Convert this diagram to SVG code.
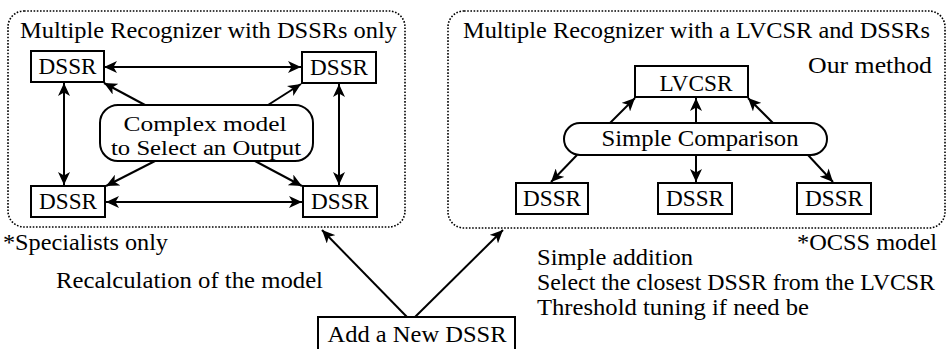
<svg xmlns="http://www.w3.org/2000/svg" width="948" height="349" viewBox="0 0 948 349">
<style>
text{font-family:"Liberation Serif","DejaVu Serif",serif;font-size:23px;fill:#000}
.c{text-anchor:middle}
.e{text-anchor:end}
.s{font-size:20px}
.box{fill:#fff;stroke:#000;stroke-width:2}
.frame{fill:none;stroke:#000;stroke-width:1.6;stroke-dasharray:1.6 1.6}
.ln{fill:none;stroke:#000;stroke-width:2}
.one{marker-end:url(#ah)}
.two{marker-end:url(#ah);marker-start:url(#ah)}
</style>
<defs>
<marker id="ah" viewBox="0 0 13 12" refX="13" refY="6" markerWidth="13" markerHeight="12" markerUnits="userSpaceOnUse" orient="auto-start-reverse">
<path d="M0,0 L13,6 L0,12 L3.5,6 z" fill="#000"/>
</marker>
</defs>

<g id="group-left">
<rect class="frame" x="8" y="11" width="397" height="216" rx="16"/>
<text x="20" y="38" textLength="377" lengthAdjust="spacingAndGlyphs">Multiple Recognizer with DSSRs only</text>
</g>
<g id="group-right">
<rect class="frame" x="448" y="11" width="497" height="217" rx="16"/>
<text x="463" y="38" textLength="467" lengthAdjust="spacingAndGlyphs">Multiple Recognizer with a LVCSR and DSSRs</text>
<text x="808" y="73" textLength="124" lengthAdjust="spacingAndGlyphs">Our method</text>
</g>

<g id="connectors">
<line class="ln two" x1="104" y1="67" x2="301" y2="67"/>
<line class="ln two" x1="106" y1="202" x2="302" y2="202"/>
<line class="ln two" x1="64" y1="83" x2="64" y2="185"/>
<line class="ln two" x1="339" y1="84" x2="339" y2="185"/>
<line class="ln one" x1="145" y1="105" x2="104" y2="83"/>
<line class="ln one" x1="268" y1="105" x2="301" y2="84"/>
<line class="ln one" x1="155" y1="161" x2="106" y2="186"/>
<line class="ln one" x1="255" y1="161" x2="302" y2="186"/>
<line class="ln one" x1="610" y1="123" x2="635" y2="98"/>
<line class="ln one" x1="696" y1="123" x2="696" y2="98"/>
<line class="ln one" x1="773" y1="123" x2="748" y2="98"/>
<line class="ln one" x1="577" y1="155" x2="551" y2="182"/>
<line class="ln one" x1="696" y1="155" x2="696" y2="182"/>
<line class="ln one" x1="808" y1="155" x2="833" y2="182"/>
<line class="ln one" x1="407" y1="317" x2="322" y2="230"/>
<line class="ln one" x1="415" y1="317" x2="503" y2="230"/>
</g>

<g id="dssr-tl"><rect class="box" x="31" y="51" width="73" height="31"/><text class="c" x="67.5" y="74" textLength="58" lengthAdjust="spacingAndGlyphs">DSSR</text></g>
<g id="dssr-tr"><rect class="box" x="302" y="52" width="74" height="31"/><text class="c" x="339" y="75" textLength="58" lengthAdjust="spacingAndGlyphs">DSSR</text></g>
<g id="dssr-bl"><rect class="box" x="31" y="186" width="74" height="31"/><text class="c" x="68" y="209" textLength="58" lengthAdjust="spacingAndGlyphs">DSSR</text></g>
<g id="dssr-br"><rect class="box" x="303" y="186" width="74" height="31"/><text class="c" x="340" y="209" textLength="58" lengthAdjust="spacingAndGlyphs">DSSR</text></g>
<g id="complex-model"><rect class="box" x="100" y="105" width="213" height="56" rx="18"/>
<text class="c s" x="205" y="131" textLength="163" lengthAdjust="spacingAndGlyphs">Complex model</text>
<text class="c s" x="206" y="155" textLength="190" lengthAdjust="spacingAndGlyphs">to Select an Output</text></g>

<g id="lvcsr"><rect class="box" x="635" y="66" width="113" height="31"/><text class="c" x="696" y="91" textLength="73" lengthAdjust="spacingAndGlyphs">LVCSR</text></g>
<g id="simple-comparison"><rect class="box" x="564" y="123" width="263" height="32" rx="16"/><text class="c" x="700" y="146" textLength="197" lengthAdjust="spacingAndGlyphs">Simple Comparison</text></g>
<g id="dssr-r1"><rect class="box" x="516" y="183" width="72" height="31"/><text class="c" x="552" y="206" textLength="58" lengthAdjust="spacingAndGlyphs">DSSR</text></g>
<g id="dssr-r2"><rect class="box" x="658" y="183" width="74" height="31"/><text class="c" x="695" y="206" textLength="58" lengthAdjust="spacingAndGlyphs">DSSR</text></g>
<g id="dssr-r3"><rect class="box" x="797" y="183" width="74" height="31"/><text class="c" x="834" y="206" textLength="58" lengthAdjust="spacingAndGlyphs">DSSR</text></g>

<g id="add-new-dssr"><rect class="box" x="318" y="317" width="197" height="40"/><text class="c" x="417" y="342" textLength="179" lengthAdjust="spacingAndGlyphs">Add a New DSSR</text></g>

<g id="notes">
<text x="3" y="250" textLength="165" lengthAdjust="spacingAndGlyphs">*Specialists only</text>
<text x="797" y="250" textLength="140" lengthAdjust="spacingAndGlyphs">*OCSS model</text>
<text x="56" y="288" textLength="267" lengthAdjust="spacingAndGlyphs">Recalculation of the model</text>
<text x="537" y="265" textLength="156" lengthAdjust="spacingAndGlyphs">Simple addition</text>
<text x="537" y="290" textLength="398" lengthAdjust="spacingAndGlyphs">Select the closest DSSR from the LVCSR</text>
<text x="537" y="315" textLength="272" lengthAdjust="spacingAndGlyphs">Threshold tuning if need be</text>
</g>
</svg>
